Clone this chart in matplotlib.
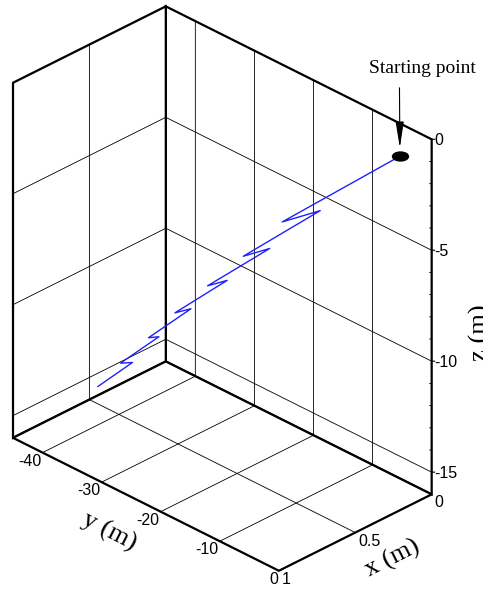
import matplotlib.pyplot as plt
import numpy as np
from matplotlib.path import Path
from matplotlib.transforms import Affine2D, offset_copy
from mpl_toolkits.mplot3d import proj3d

plt.rcParams["font.family"] = ["Liberation Sans", "DejaVu Sans"]
plt.rcParams["grid.color"] = "black"
plt.rcParams["grid.linewidth"] = 0.6

# body trajectory (m)
path_x = [0.20, 0.34, 0.30, 0.39, 0.36, 0.43, 0.41, 0.47, 0.45, 0.50, 0.49, 0.54, 0.52, 0.56]
path_y = [-0.2, -16.5, -11.1, -21.8, -18.1, -26.8, -24.0, -31.3, -29.1, -35.0, -33.5, -38.7, -37.2, -42.0]
path_z = [-0.1, -4.75, -3.66, -6.83, -6.09, -8.69, -8.14, -10.37, -9.96, -11.88, -11.67, -13.38, -13.22, -14.80]

x_ticks = [0, 0.5, 1]
y_ticks = [-40, -30, -20, -10, 0]
z_ticks = [-15, -10, -5, 0]
z_minor = [-14, -13, -12, -11, -9, -8, -7, -6, -4, -3, -2, -1]

fig = plt.figure(figsize=(4.83, 5.92), dpi=100)
ax = fig.add_axes([-0.0532, 0.0936, 1.0, 0.8159], projection="3d")
ax.set_proj_type("ortho")
ax.view_init(elev=30, azim=45)
ax.set_xlim(0, 1)
ax.set_ylim(-45, 0)
ax.set_zlim(-16, 0)
ax.set_box_aspect((0.527, 0.917, 1.0), zoom=1.1995)
ax.set_xticks(x_ticks)
ax.set_yticks(y_ticks)
ax.set_zticks(z_ticks)

# keep only the grid from the built-in axes; ticks and labels drawn below
for axis in (ax.xaxis, ax.yaxis, ax.zaxis):
    axis.set_tick_params(label1On=False, label2On=False, tick1On=False, tick2On=False)
    axis.label.set_visible(False)
    axis.offsetText.set_visible(False)
    axis.set_pane_color((1, 1, 1, 1))
    axis.pane.set_edgecolor("black")
    axis.pane.set_linewidth(1.6)
    axis.pane.set_closed(True)
    axis.line.set_visible(False)
    axis._axinfo["tick"]["inward_factor"] = 0
    axis._axinfo["tick"]["outward_factor"] = 0

ax.computed_zorder = False
ax.plot(path_x, path_y, path_z, color="#2020ff", lw=1.0, zorder=3)

# elliptical marker for the release point
ell = Path.unit_circle().transformed(Affine2D().scale(1.0, 0.56))
ax.plot(path_x[:1], path_y[:1], path_z[:1], ls="none", marker=ell,
        ms=11.5, color="black", zorder=4)

# z ticks on the front-right edge
for z in z_ticks:
    ax.plot([0, -0.0099], [0, 0.25], [z, z], color="black", lw=0.8, zorder=2)
for z in z_minor:
    ax.plot([0, 0.0066], [0, -0.167], [z, z], color="black", lw=0.6, zorder=2)

tick_font = 11.5
for z in z_ticks:
    ax.text(0, 0, z, f"{z:g}", ha="left", va="center", fontsize=tick_font,
            transform=offset_copy(ax.transData, fig=fig, x=3, y=-1, units="dots"))
for y in y_ticks:
    ax.text(1, y, -16, f"{y:g}", ha="right", va="top", fontsize=tick_font,
            transform=offset_copy(ax.transData, fig=fig, x=-1, y=-1, units="dots"))
for x in x_ticks:
    ax.text(x, 0, -16, f"{x:g}", ha="left", va="top", fontsize=tick_font,
            transform=offset_copy(ax.transData, fig=fig, x=3, y=-1, units="dots"))

serif = ["Liberation Serif", "DejaVu Serif"]
fig.text(0.2257, 0.1014, "y (m)", rotation=-27, ha="center", va="center",
         fontsize=19, family=serif)
fig.text(0.8137, 0.0557, "x (m)", rotation=27, ha="center", va="center",
         fontsize=19, family=serif)
fig.text(0.9938, 0.4375, "z (m)", rotation=90, ha="center", va="center",
         fontsize=19, family=serif)

px, py, _ = proj3d.proj_transform(path_x[0], path_y[0], path_z[0], ax.get_proj())
ax.annotate("Starting point", xy=(px, py), xycoords="data",
            xytext=(23, 88), textcoords="offset pixels",
            ha="center", va="center", fontsize=14, family=serif,
            arrowprops=dict(arrowstyle="-|>,head_length=1.6,head_width=0.25",
                            mutation_scale=10, color="black", lw=0.8,
                            relpos=(0.28, 0.0), shrinkA=6, shrinkB=6))

fig.savefig("out.png", dpi=100)
